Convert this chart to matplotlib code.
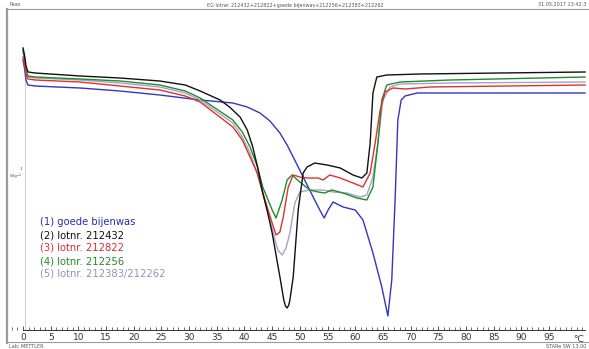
import matplotlib
matplotlib.use("Agg")
import matplotlib.pyplot as plt
from matplotlib.lines import Line2D
from matplotlib.ticker import MultipleLocator

# ------------------------------
# DSC curves (T in degC, heat flow in W/g, arbitrary offset)
# ------------------------------
labels = ["(1) goede bijenwas", "(2) lotnr. 212432", "(3) lotnr. 212822",
          "(4) lotnr. 212256", "(5) lotnr. 212383/212262"]
colors = ["#3535c0", "#111111", "#e03030", "#228b2a", "#a3a3c4"]
text_colors = ["#2b2bb0", "#111111", "#d83030", "#1f8a28", "#9494b4"]

t_blue = [0.0, 0.27, 0.54, 0.9, 2.2, 10.3, 17.5, 24.7, 32.0, 37.9, 40.5, 42.8, 44.6,
          46.4, 47.7, 48.8, 50.6, 52.4, 53.6, 54.4, 55.1, 56.0, 57.8, 60.0, 61.4, 63.2,
          64.8, 65.9, 66.6, 67.2, 67.7, 68.3, 69.0, 71.2, 101.5]
hf_blue = [0.80, 0.64, 0.40, 0.30, 0.28, 0.24, 0.18, 0.10, 0.00, -0.06, -0.14, -0.26,
           -0.42, -0.66, -0.90, -1.14, -1.54, -1.94, -2.20, -2.36, -2.20, -2.04, -2.14,
           -2.20, -2.40, -3.06, -3.74, -4.32, -3.60, -2.00, -0.40, 0.00, 0.08, 0.14, 0.14]

t_black = [0.0, 0.27, 0.54, 0.9, 2.2, 10.3, 17.5, 24.7, 29.3, 32.0, 35.6, 37.3, 39.2,
           40.5, 41.5, 42.4, 43.3, 44.2, 45.0, 46.4, 47.1, 47.4, 47.7, 48.0, 48.2, 48.8,
           49.7, 50.6, 51.3, 52.7, 54.9, 57.3, 59.6, 61.2, 62.1, 62.7, 63.2, 63.9, 65.7,
           71.7, 86.2, 101.5]
hf_black = [1.04, 0.90, 0.68, 0.56, 0.54, 0.48, 0.44, 0.38, 0.30, 0.18, 0.00, -0.14,
            -0.34, -0.60, -0.94, -1.36, -1.86, -2.26, -2.66, -3.54, -4.00, -4.12, -4.16,
            -4.10, -4.00, -3.54, -2.20, -1.46, -1.34, -1.26, -1.30, -1.36, -1.50, -1.56,
            -1.46, -0.86, 0.14, 0.46, 0.50, 0.52, 0.54, 0.56]

t_red = [0.0, 0.27, 0.54, 0.9, 2.2, 10.3, 17.5, 24.7, 29.3, 32.0, 37.9, 39.6, 41.0,
         42.3, 43.3, 45.0, 45.7, 46.4, 47.0, 47.9, 48.8, 50.0, 51.3, 53.3, 54.2, 55.4,
         57.3, 59.6, 61.4, 62.7, 63.6, 64.5, 65.4, 66.8, 69.0, 73.5, 101.5]
hf_red = [0.86, 0.72, 0.52, 0.42, 0.40, 0.36, 0.28, 0.20, 0.08, -0.04, -0.54, -0.80,
          -1.14, -1.46, -1.86, -2.46, -2.70, -2.64, -2.34, -1.74, -1.50, -1.54, -1.56,
          -1.56, -1.60, -1.50, -1.56, -1.66, -1.74, -1.46, -0.86, -0.20, 0.16, 0.24,
          0.22, 0.26, 0.30]

t_green = [0.0, 0.27, 0.54, 0.9, 2.2, 10.3, 17.5, 24.7, 29.3, 32.0, 37.9, 39.6, 41.0,
           42.3, 43.3, 45.0, 45.7, 46.8, 47.7, 48.6, 50.0, 51.8, 53.3, 54.5, 55.8, 57.8,
           60.3, 62.1, 63.2, 64.1, 64.8, 65.7, 68.1, 77.1, 101.5]
hf_green = [1.00, 0.84, 0.60, 0.48, 0.46, 0.42, 0.38, 0.30, 0.18, 0.04, -0.40, -0.64,
            -0.94, -1.32, -1.74, -2.20, -2.36, -2.00, -1.60, -1.50, -1.64, -1.80, -1.84,
            -1.86, -1.80, -1.86, -1.96, -2.00, -1.74, -0.86, 0.00, 0.30, 0.36, 0.40, 0.46]

t_gray = [0.0, 0.27, 0.54, 0.9, 2.2, 10.3, 17.5, 24.7, 29.3, 32.0, 37.9, 39.6, 41.0,
          42.4, 43.7, 45.2, 46.0, 46.8, 47.5, 48.2, 49.1, 50.0, 51.8, 54.2, 56.0, 58.5,
          60.9, 62.1, 63.2, 64.1, 65.0, 66.3, 68.1, 77.1, 101.5]
hf_gray = [0.96, 0.80, 0.56, 0.46, 0.44, 0.40, 0.34, 0.26, 0.14, 0.00, -0.46, -0.74,
           -1.06, -1.50, -2.00, -2.66, -3.00, -3.10, -2.96, -2.66, -2.06, -1.84, -1.80,
           -1.80, -1.84, -1.86, -1.94, -1.90, -1.54, -0.86, 0.00, 0.26, 0.32, 0.34, 0.36]

x_ticks = list(range(0, 100, 5))

# ------------------------------
# Figure
# ------------------------------
W, H = 589, 349
fig = plt.figure(figsize=(W / 100, H / 100), dpi=100)


def fx(px):
    return px / W


def fy(py):
    return 1 - py / H


ax = fig.add_axes([fx(7), fy(330), fx(580), fy(12) - fy(330)])
ax.set_xlim(-2.89, 101.86)
ax.set_ylim(-4.6, 1.76)

# draw order: blue under, black on top like the original
series = [(t_blue, hf_blue, 0), (t_gray, hf_gray, 4), (t_green, hf_green, 3),
          (t_red, hf_red, 2), (t_black, hf_black, 1)]
for t, hf, i in series:
    ax.plot(t, hf, color=colors[i], lw=1.0, solid_joinstyle="round")

ax.axvline(0.35, ymin=0, ymax=0.8, color="#d0d0d0", lw=0.8, zorder=0)

for s in ["top", "right", "left"]:
    ax.spines[s].set_visible(False)
ax.spines["bottom"].set_bounds(0, 101.5)
ax.spines["bottom"].set_linewidth(0.7)
ax.spines["bottom"].set_color("#333333")
ax.set_yticks([])
ax.set_xticks(x_ticks)
ax.xaxis.set_minor_locator(MultipleLocator(1))
ax.tick_params(axis="x", which="major", direction="in", length=3, width=0.6,
               labelsize=6.5, pad=2, colors="#333333")
ax.tick_params(axis="x", which="minor", direction="in", length=2, width=0.5,
               colors="#333333")
ax.annotate("°C", xy=(100.3, 0), xycoords=("data", "axes fraction"),
            xytext=(0, -3.5), textcoords="offset points",
            fontsize=6.5, color="#333333", ha="center", va="top")

# legend as coloured text lines
for i, lab in enumerate(labels):
    fig.text(fx(40), fy(222 + 13 * i), lab, color=text_colors[i], fontsize=7.2,
             va="center", ha="left")

# y scale marker
fig.text(fx(21), fy(169), "1", fontsize=3.2, color="#555555", ha="center", va="center")
fig.text(fx(16), fy(177), "Wg$^{-1}$", fontsize=3.2, color="#555555",
         ha="center", va="center")

# report frame
frame = dict(color="#9a9a9a", transform=fig.transFigure)
fig.add_artist(Line2D([fx(7), fx(7)], [fy(9), fy(343)], lw=1.6, **frame))
fig.add_artist(Line2D([fx(7), fx(589)], [fy(9), fy(9)], lw=0.8, **frame))
fig.add_artist(Line2D([fx(7), fx(589)], [fy(342), fy(342)], lw=0.8, **frame))

fig.text(fx(9), fy(5), "Peas", fontsize=3.5, color="#555555", va="center")
fig.text(fx(295), fy(5), "EG lotne: 212432+212822+goede bijenwas+212256+212383+212262",
         fontsize=3.5, color="#555555", va="center", ha="center")
fig.text(fx(586), fy(5), "31.05.2017 13:42:3", fontsize=3.5, color="#555555",
         va="center", ha="right")
fig.text(fx(9), fy(346), "Lab: METTLER", fontsize=3.5, color="#555555", va="center")
fig.text(fx(586), fy(346), "STARe SW 13.00", fontsize=3.5, color="#555555",
         va="center", ha="right")

fig.savefig("out.png", dpi=100, facecolor="white")
